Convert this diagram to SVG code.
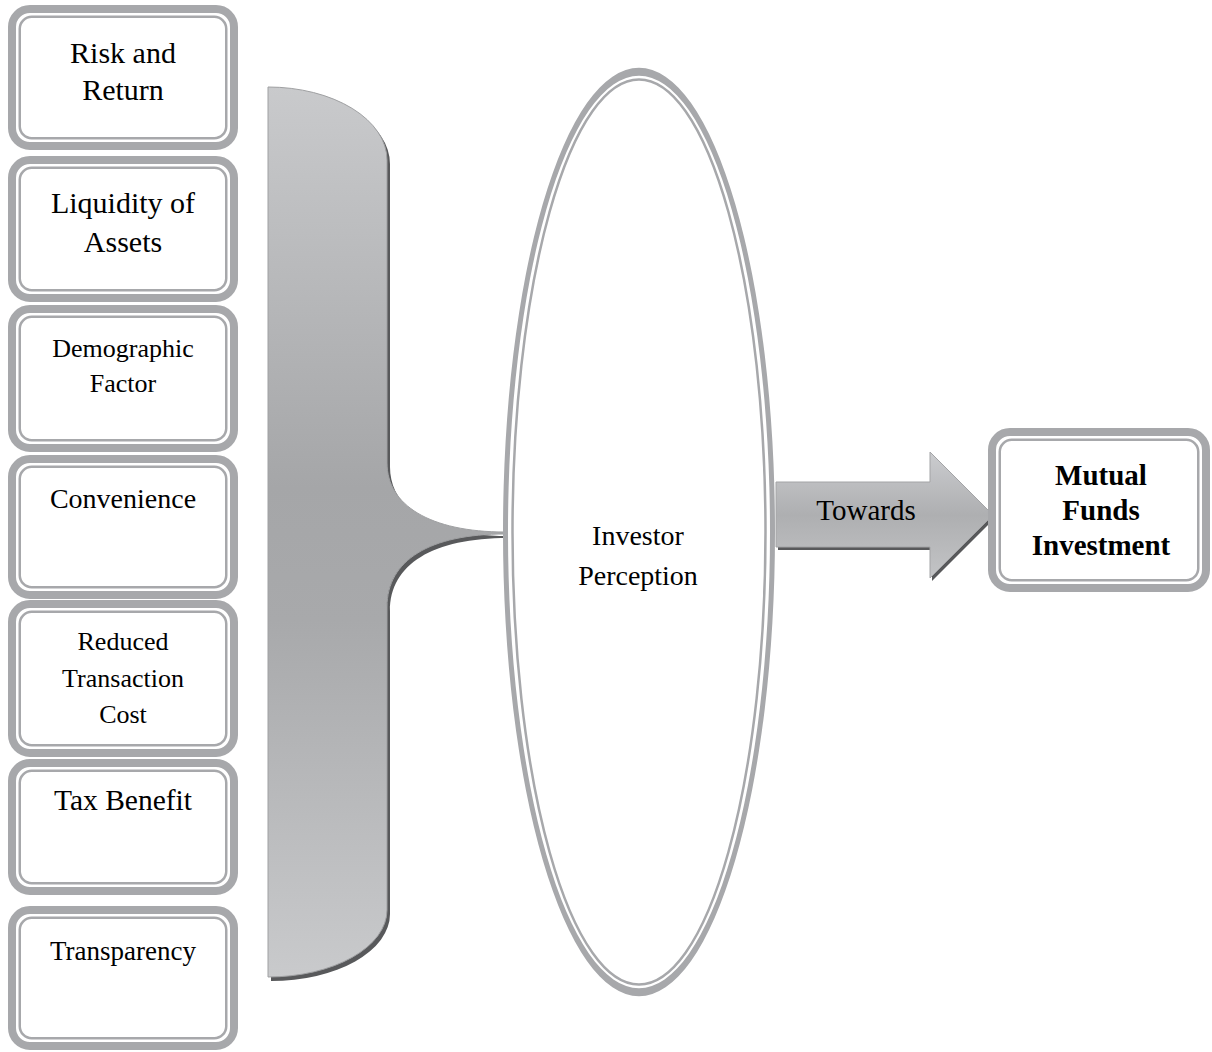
<svg xmlns="http://www.w3.org/2000/svg" width="1212" height="1052" viewBox="0 0 1212 1052">
<style>
.outer{fill:#ffffff;stroke:#a7a8ab;stroke-width:8}
.inner{fill:none;stroke:#a7a8ab;stroke-width:2.5}
.t{font-family:"Liberation Serif","Times New Roman",serif;fill:#000;text-anchor:middle}
.b{font-weight:bold}
.shadow{fill:#58595b}
</style>
<defs>
<linearGradient id="gBracket" gradientUnits="userSpaceOnUse" x1="0" y1="87" x2="0" y2="977">
<stop offset="0" stop-color="#c9cacc"/>
<stop offset="0.45" stop-color="#a5a6a8"/>
<stop offset="0.6" stop-color="#a8a9ab"/>
<stop offset="1" stop-color="#c9cacc"/>
</linearGradient>
<linearGradient id="gArrow" gradientUnits="userSpaceOnUse" x1="0" y1="452" x2="0" y2="578">
<stop offset="0" stop-color="#cbcccf"/>
<stop offset="0.5" stop-color="#aeafb1"/>
<stop offset="1" stop-color="#c3c4c6"/>
</linearGradient>
</defs>
<rect width="1212" height="1052" fill="#ffffff"/>

<g id="connectors">
<g id="bracket">
<path class="shadow" transform="translate(3,4)" d="M268,87 A119,73 0 0 1 387,160 L387,463 C387,505 430,532 505,532 L505,534 C430,534 387,560 387,607 L387,910 A119,67 0 0 1 268,977 Z"/>
<path fill="url(#gBracket)" stroke="#9fa0a2" stroke-width="1" d="M268,87 A119,73 0 0 1 387,160 L387,463 C387,505 430,532 505,532 L505,534 C430,534 387,560 387,607 L387,910 A119,67 0 0 1 268,977 Z"/>
</g>
<g id="arrow-towards">
<path class="shadow" transform="translate(2,3)" d="M776,482 L930,482 L930,452 L993,515 L930,578 L930,547 L776,547 Z"/>
<path fill="url(#gArrow)" stroke="#a3a4a6" stroke-width="1" d="M776,482 L930,482 L930,452 L993,515 L930,578 L930,547 L776,547 Z"/>
<text class="t" x="866" y="520" font-size="29">Towards</text>
</g>
</g>

<g id="n1">
<rect class="outer" x="12" y="9" width="222" height="137" rx="18"/>
<rect class="inner" x="19.75" y="16.75" width="206.5" height="121.5" rx="12"/>
<text class="t" x="123" y="63" font-size="30">Risk and</text>
<text class="t" x="123" y="100" font-size="30">Return</text>
</g>
<g id="n2">
<rect class="outer" x="12" y="160" width="222" height="138" rx="18"/>
<rect class="inner" x="19.75" y="167.75" width="206.5" height="122.5" rx="12"/>
<text class="t" x="123" y="213" font-size="30">Liquidity of</text>
<text class="t" x="123" y="252" font-size="30">Assets</text>
</g>
<g id="n3">
<rect class="outer" x="12" y="309" width="222" height="139" rx="18"/>
<rect class="inner" x="19.75" y="316.75" width="206.5" height="123.5" rx="12"/>
<text class="t" x="123" y="357" font-size="26">Demographic</text>
<text class="t" x="123" y="392" font-size="26">Factor</text>
</g>
<g id="n4">
<rect class="outer" x="12" y="459" width="222" height="136" rx="18"/>
<rect class="inner" x="19.75" y="466.75" width="206.5" height="120.5" rx="12"/>
<text class="t" x="123" y="508" font-size="28">Convenience</text>
</g>
<g id="n5">
<rect class="outer" x="12" y="604" width="222" height="149" rx="18"/>
<rect class="inner" x="19.75" y="611.75" width="206.5" height="133.5" rx="12"/>
<text class="t" x="123" y="650" font-size="26">Reduced</text>
<text class="t" x="123" y="687" font-size="26">Transaction</text>
<text class="t" x="123" y="723" font-size="26">Cost</text>
</g>
<g id="n6">
<rect class="outer" x="12" y="763" width="222" height="128" rx="18"/>
<rect class="inner" x="19.75" y="770.75" width="206.5" height="112.5" rx="12"/>
<text class="t" x="123" y="810" font-size="29.5">Tax Benefit</text>
</g>
<g id="n7">
<rect class="outer" x="12" y="910" width="222" height="136" rx="18"/>
<rect class="inner" x="19.75" y="917.75" width="206.5" height="120.5" rx="12"/>
<text class="t" x="123" y="960" font-size="27">Transparency</text>
</g>

<g id="investor-perception">
<path fill="#ffffff" d="M503,532 A136,464 0 1 0 775,532 A136,464 0 1 0 503,532 Z"/>
<path fill="#a7a8ab" fill-rule="evenodd" d="M503,532 A136,464 0 1 0 775,532 A136,464 0 1 0 503,532 Z M508,532 A131,456 0 1 0 770,532 A131,456 0 1 0 508,532 Z"/>
<ellipse cx="639" cy="532" rx="126.5" ry="452.5" fill="none" stroke="#a7a8ab" stroke-width="2.5"/>
<text class="t" x="638" y="545" font-size="28">Investor</text>
<text class="t" x="638" y="585" font-size="28">Perception</text>
</g>

<g id="mutual-funds">
<rect class="outer" x="992" y="432" width="214" height="156" rx="18"/>
<rect class="inner" x="999.75" y="439.75" width="198.5" height="140.5" rx="12"/>
<text class="t b" x="1101" y="485" font-size="29">Mutual</text>
<text class="t b" x="1101" y="520" font-size="29">Funds</text>
<text class="t b" x="1101" y="555" font-size="29">Investment</text>
</g>
</svg>
